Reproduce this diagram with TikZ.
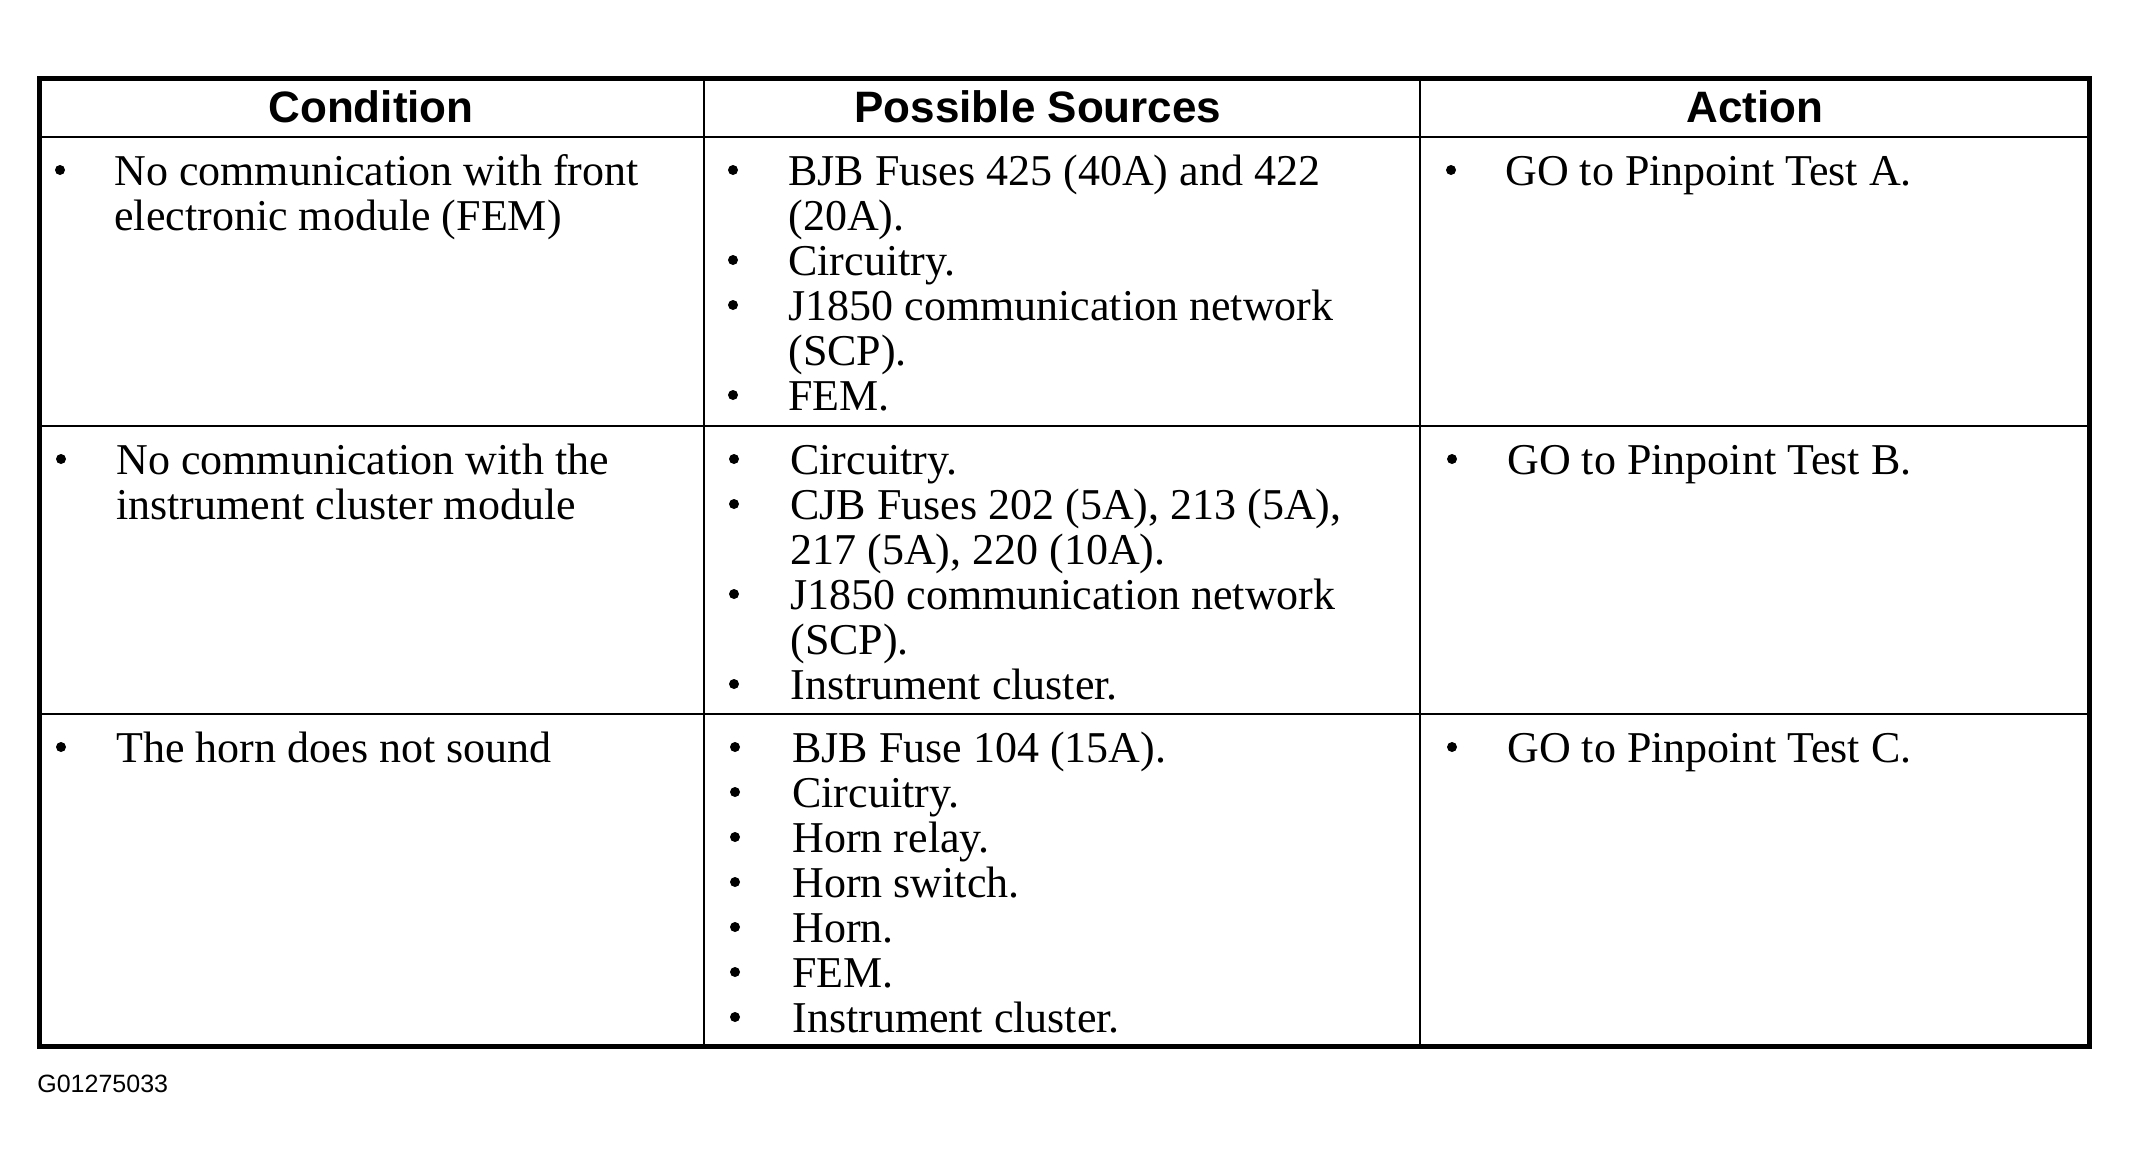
\documentclass[tikz,border=0pt]{standalone}
\usepackage{fontspec}
\setmainfont{Liberation Serif}
\newfontfamily\hdrfont{Liberation Sans}
\begin{document}
\begin{tikzpicture}[x=0.5pt,y=-0.5pt,
  txt/.style={anchor=base west,inner sep=0pt,font=\fontsize{22}{22}\selectfont},
  hdr/.style={anchor=base,inner sep=0pt,font=\hdrfont\bfseries\fontsize{22}{22}\selectfont},
  bul/.style={circle,fill=black,inner sep=0pt,minimum size=5pt},
  outer/.style={line width=2.5pt},
  inner/.style={line width=1pt}]
\useasboundingbox (0,0) rectangle (2129,1168);
\fill[white] (0,0) rectangle (2129,1168);
% grid
\draw[inner] (39,137) -- (2089,137);
\draw[inner] (39,426) -- (2089,426);
\draw[inner] (39,714) -- (2089,714);
\draw[inner] (704,78) -- (704,1046);
\draw[inner] (1420,78) -- (1420,1046);
\draw[outer] (39,78) rectangle (2089.5,1046.5);
% headers
\node[hdr] (h1) at (371,122) {Condition};
\node[hdr] (h2) at (1038,122) {Possible Sources};
\node[hdr] (h3) at (1755,122) {Action};
% row 1
\node[bul] (b1a) at (60,170) {};
\node[txt] (c1a) at (114,185) {No communication with front};
\node[txt] (c1b) at (114,230) {electronic module (FEM)};
\node[bul] (b2a) at (733,170) {};
\node[txt] (s1a) at (788,185) {BJB Fuses 425 (40A) and 422};
\node[txt] (s1b) at (788,230) {(20A).};
\node[bul] (b2b) at (733,260) {};
\node[txt] (s1c) at (788,275) {Circuitry.};
\node[bul] (b2c) at (733,305) {};
\node[txt] (s1d) at (788,320) {J1850 communication network};
\node[txt] (s1e) at (788,365) {(SCP).};
\node[bul] (b2d) at (733,395) {};
\node[txt] (s1f) at (788,410) {FEM.};
\node[bul] (b3a) at (1451,170) {};
\node[txt] (a1) at (1505,185) {GO to Pinpoint Test A.};
% row 2
\node[bul] (b1b) at (61,459) {};
\node[txt] (c2a) at (116,474) {No communication with the};
\node[txt] (c2b) at (116,519) {instrument cluster module};
\node[bul] (b2e) at (734,459) {};
\node[txt] (s2a) at (790,474) {Circuitry.};
\node[bul] (b2f) at (734,504) {};
\node[txt] (s2b) at (790,519) {CJB Fuses 202 (5A), 213 (5A),};
\node[txt] (s2c) at (790,564) {217 (5A), 220 (10A).};
\node[bul] (b2g) at (734,594) {};
\node[txt] (s2d) at (790,609) {J1850 communication network};
\node[txt] (s2e) at (790,654) {(SCP).};
\node[bul] (b2h) at (734,684) {};
\node[txt] (s2f) at (790,699) {Instrument cluster.};
\node[bul] (b3b) at (1452,459) {};
\node[txt] (a2) at (1507,474) {GO to Pinpoint Test B.};
% row 3
\node[bul] (b1c) at (61,747) {};
\node[txt] (c3a) at (116,762) {The horn does not sound};
\node[bul] (b2i) at (735,747) {};
\node[txt] (s3a) at (792,762) {BJB Fuse 104 (15A).};
\node[bul] (b2j) at (735,792) {};
\node[txt] (s3b) at (792,807) {Circuitry.};
\node[bul] (b2k) at (735,837) {};
\node[txt] (s3c) at (792,852) {Horn relay.};
\node[bul] (b2l) at (735,882) {};
\node[txt] (s3d) at (792,897) {Horn switch.};
\node[bul] (b2m) at (735,927) {};
\node[txt] (s3e) at (792,942) {Horn.};
\node[bul] (b2n) at (735,972) {};
\node[txt] (s3f) at (792,987) {FEM.};
\node[bul] (b2o) at (735,1017) {};
\node[txt] (s3g) at (792,1032) {Instrument cluster.};
\node[bul] (b3c) at (1452,747) {};
\node[txt] (a3) at (1507,762) {GO to Pinpoint Test C.};
% figure id
\node[anchor=base west,inner sep=0pt,font=\hdrfont\fontsize{12.5}{12.5}\selectfont] (gid) at (37,1092) {G01275033};
\end{tikzpicture}
\end{document}
